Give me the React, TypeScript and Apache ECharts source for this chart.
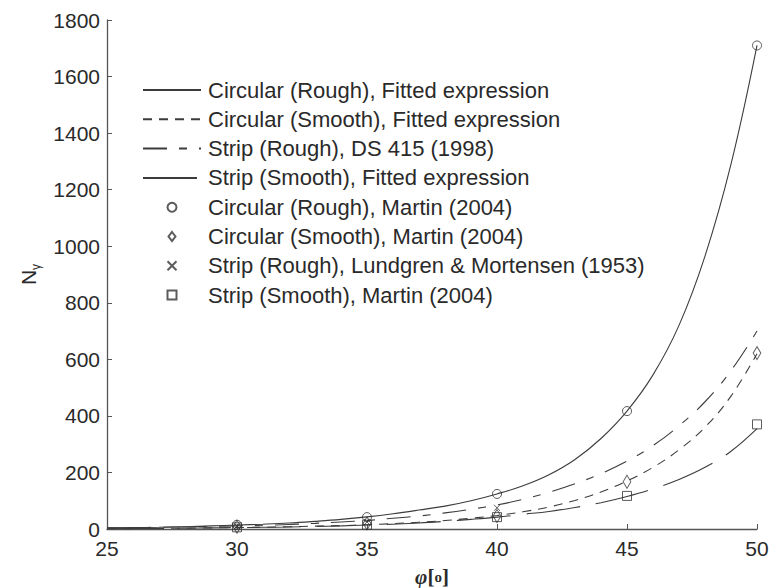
import React, { useEffect, useRef } from "react";
import * as echarts from "echarts";

// Friction angle grid (degrees) for the fitted / code curves
const phiDeg = [25, 26, 27, 28, 29, 30, 31, 32, 33, 34, 35, 36, 37, 38, 39, 40, 41, 42, 43, 44, 45, 46, 47, 48, 49, 50];

// N_gamma along each curve
const circRoughFit = [4, 5, 6, 8, 11, 14, 17, 21, 27, 34, 43, 54, 67, 81, 100, 124, 153, 192, 246, 320, 417, 545, 720, 965, 1290, 1710];
const circSmoothFit = [1, 1.5, 2, 3, 4, 5, 6, 8, 10, 12, 15, 19, 24, 30, 38, 48, 61, 78, 101, 131, 170, 218, 280, 360, 470, 620];
const stripRoughDS415 = [4, 5, 6, 8, 9, 11, 13, 16, 20, 25, 30, 38, 46, 57, 70, 85, 105, 130, 160, 196, 240, 295, 365, 450, 560, 700];
const stripSmoothFit = [1, 1.5, 2, 3, 4, 5, 6, 7, 9, 11, 14, 17, 21, 27, 34, 42, 52, 62, 76, 93, 115, 142, 175, 218, 275, 355];

// Discrete results
const martinPhi = [30, 35, 40, 45, 50];
const martinCircRough = [15, 42, 124, 417, 1710];
const martinCircSmooth = [8, 20, 46, 167, 622];
const martinStripSmooth = [6, 15, 42, 117, 370];
const lundgrenPhi = [30, 35, 40];
const lundgrenStripRough = [10, 25, 75];

const xTicks = { min: 25, max: 50, interval: 5 };
const yTicks = { min: 0, max: 1800, interval: 200 };

const legendNames = [
  "Circular (Rough), Fitted expression",
  "Circular (Smooth), Fitted expression",
  "Strip (Rough), DS 415 (1998)",
  "Strip (Smooth), Fitted expression",
  "Circular (Rough), Martin (2004)",
  "Circular (Smooth), Martin (2004)",
  "Strip (Rough), Lundgren & Mortensen (1953)",
  "Strip (Smooth), Martin (2004)",
];

const INK = "#2a2a2a";
const LINE = "#3c3c3c";
const SANS = "'Liberation Sans', Arial, sans-serif";
const SERIF = "'Liberation Serif', 'DejaVu Serif', serif";

// Marker outlines as paths so the legend keeps their proportions
const CROSS = "path://M0,0L10,10M0,10L10,0";
const DIAMOND = "path://M5,0L10,6.5L5,13L0,6.5Z";
const SQUARE = "path://M0,0L10,0L10,10L0,10Z";
const RING = "circle";

const pairs = (xs: number[], ys: number[]) => xs.map((x, i) => [x, ys[i]]);

function curve(name: string, ys: number[], type: any) {
  return {
    name,
    type: "line",
    data: pairs(phiDeg, ys),
    smooth: 0.4,
    symbol: "none",
    showSymbol: false,
    lineStyle: { color: LINE, width: 1.1, type },
    itemStyle: { color: "transparent", borderWidth: 0 },
    z: 2,
  };
}

function marks(name: string, xs: number[], ys: number[], symbol: string, size: any) {
  return {
    name,
    type: "scatter",
    data: pairs(xs, ys),
    symbol,
    symbolSize: size,
    symbolKeepAspect: true,
    itemStyle: { color: "transparent", borderColor: "#333", borderWidth: 1 },
    z: 3,
  };
}

export default function App() {
  const ref = useRef<HTMLDivElement>(null);

  useEffect(() => {
    if (!ref.current) return;
    const chart = echarts.init(ref.current, null, { renderer: "svg" });
    const lineLegend = (name: string) => ({ name, itemStyle: { opacity: 0 } });
    chart.setOption({
      animation: false,
      backgroundColor: "#ffffff",
      grid: {
        left: 107,
        right: 12,
        top: 20,
        bottom: 59,
        containLabel: false,
        outerBoundsMode: "none",
      },
      legend: {
        orient: "vertical",
        left: 142,
        top: 79,
        padding: 0,
        itemWidth: 58,
        itemHeight: 9,
        itemGap: 7.3,
        selectedMode: false,
        symbolKeepAspect: true,
        data: [
          lineLegend(legendNames[0]),
          lineLegend(legendNames[1]),
          lineLegend(legendNames[2]),
          lineLegend(legendNames[3]),
          { name: legendNames[4], icon: RING },
          { name: legendNames[5], icon: DIAMOND },
          { name: legendNames[6], icon: CROSS },
          { name: legendNames[7], icon: SQUARE },
        ],
        textStyle: {
          fontFamily: SANS,
          fontSize: 22,
          lineHeight: 22,
          color: INK,
          padding: [0, 0, 0, 2],
        },
      },
      xAxis: {
        type: "value",
        min: xTicks.min,
        max: xTicks.max,
        interval: xTicks.interval,
        splitLine: { show: false },
        axisLine: { show: true, onZero: false, lineStyle: { color: "#555", width: 1.3 } },
        axisTick: { show: true, inside: true, length: 5, lineStyle: { color: "#555" } },
        axisLabel: { fontFamily: SANS, fontSize: 21, color: INK, margin: 9 },
        name: "{p|φ}{b|[}{o|o}{b|]}",
        nameLocation: "middle",
        nameGap: 37,
        nameTextStyle: {
          rich: {
            p: { fontFamily: SERIF, fontSize: 21, fontWeight: "bold", fontStyle: "italic", color: INK },
            b: { fontFamily: SERIF, fontSize: 21, fontWeight: "bold", color: INK },
            o: { fontFamily: SERIF, fontSize: 15, fontWeight: "bold", color: INK },
          },
        },
      },
      yAxis: {
        type: "value",
        min: yTicks.min,
        max: yTicks.max,
        interval: yTicks.interval,
        splitLine: { show: false },
        axisLine: { show: true, onZero: false, lineStyle: { color: "#555", width: 1.3 } },
        axisTick: { show: true, inside: true, length: 5, lineStyle: { color: "#555" } },
        axisLabel: {
          fontFamily: SANS,
          fontSize: 21,
          color: INK,
          margin: 7,
          formatter: (v: number) => String(v),
        },
        name: "{n|N}{g|γ}",
        nameLocation: "middle",
        nameRotate: 90,
        nameGap: 64,
        nameTextStyle: {
          rich: {
            n: { fontFamily: SANS, fontSize: 21, lineHeight: 28, color: INK },
            g: { fontFamily: SANS, fontSize: 12, lineHeight: 12, verticalAlign: "bottom", color: INK },
          },
        },
      },
      series: [
        curve(legendNames[0], circRoughFit, "solid"),
        curve(legendNames[1], circSmoothFit, [9, 7]),
        curve(legendNames[2], stripRoughDS415, [24, 12, 8, 12]),
        curve(legendNames[3], stripSmoothFit, [54, 16]),
        marks(legendNames[4], martinPhi, martinCircRough, RING, 9),
        marks(legendNames[5], martinPhi, martinCircSmooth, DIAMOND, [10, 13]),
        marks(legendNames[6], lundgrenPhi, lundgrenStripRough, CROSS, 6),
        marks(legendNames[7], martinPhi, martinStripSmooth, SQUARE, 9),
      ],
    });
    return () => chart.dispose();
  }, []);

  return (
    <div
      ref={ref}
      style={{ position: "fixed", left: 0, top: 0, width: 769, height: 588, background: "#fff" }}
    />
  );
}
